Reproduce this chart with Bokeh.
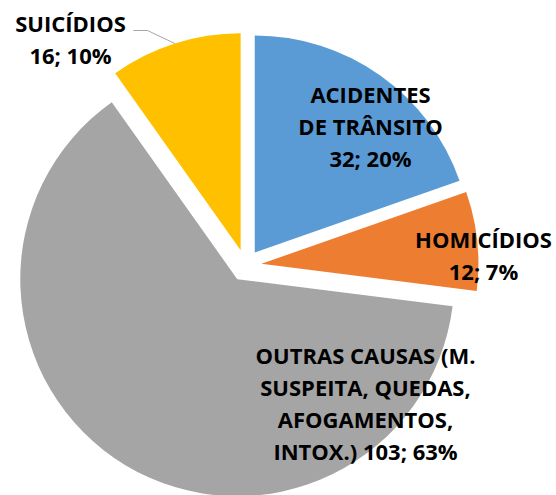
import math
from bokeh.plotting import figure
from bokeh.models import Range1d
from bokeh.embed import file_html
from bokeh.resources import INLINE
from bokeh.core.properties import value

# ---- data ----
categories = ["ACIDENTES DE TRÂNSITO", "HOMICÍDIOS",
              "OUTRAS CAUSAS (M. SUSPEITA, QUEDAS, AFOGAMENTOS, INTOX.)", "SUICÍDIOS"]
counts = [32, 12, 103, 16]
label_lines = [
    ["ACIDENTES", "DE TRÂNSITO", "{v}"],
    ["HOMICÍDIOS", "{v}"],
    ["OUTRAS CAUSAS (M.", "SUSPEITA, QUEDAS,", "AFOGAMENTOS,", "INTOX.) {v}"],
    ["SUICÍDIOS", "{v}"],
]

# ---- style / layout ----
colors = ["#5B9BD5", "#ED7D31", "#A5A5A5", "#FFC000"]
W, H = 556, 495
OX, OY = 0, 0              # page offset of the plot frame
CX, CY = 245, 265          # pie centre (picture px)
R = 217                    # radius px
EXPLODE = 16               # explode distance px
LINE_H = 32
label_offsets = [(125, -140), (238, -11), (120, 137), (-175, -227)]  # from centre, px (y down)
FONT = "Open Sans"
FSIZE = "22px"

p = figure(width=W, height=H, output_backend="svg", toolbar_location=None,
           x_range=Range1d(OX, OX + W), y_range=Range1d(-(OY + H), -OY),
           x_axis_type=None, y_axis_type=None, min_border=0)
p.grid.visible = False
p.outline_line_color = None
p.background_fill_color = "white"
p.border_fill_color = "white"

total = sum(counts)
cum = 0
for i, c in enumerate(counts):
    f0 = cum / total
    cum += c
    f1 = cum / total
    a_start = math.pi / 2 - 2 * math.pi * f1
    a_end = math.pi / 2 - 2 * math.pi * f0
    mid = (a_start + a_end) / 2
    x0 = CX + EXPLODE * math.cos(mid)
    y0 = -CY + EXPLODE * math.sin(mid)
    p.wedge(x=[x0], y=[y0], radius=R, start_angle=[a_start], end_angle=[a_end],
            fill_color=colors[i], line_color=None)

    pct = round(100 * c / total)
    vtxt = f"{c}; {pct}%"
    lines = [s.replace("{v}", vtxt) for s in label_lines[i]]
    lx = CX + label_offsets[i][0]
    ly = CY + label_offsets[i][1]
    n = len(lines)
    ys = [-(ly + (k - (n - 1) / 2) * LINE_H) for k in range(n)]
    p.text(x=[lx] * n, y=ys, text=lines, text_align="center", text_baseline="middle",
           text_font=value(FONT), text_font_style="bold", text_font_size=FSIZE,
           text_color="black")

    if categories[i] == "SUICÍDIOS":
        # leader line from label to outer arc at mid angle
        ex = x0 + R * math.cos(mid)
        ey = y0 + R * math.sin(mid)
        sx = lx + 63
        sy = -(ly - 8)
        p.line(x=[sx, sx + 14, ex], y=[sy, sy, ey], line_color="#A6A6A6", line_width=1)

open("out.html", "w").write(file_html(p, INLINE))
